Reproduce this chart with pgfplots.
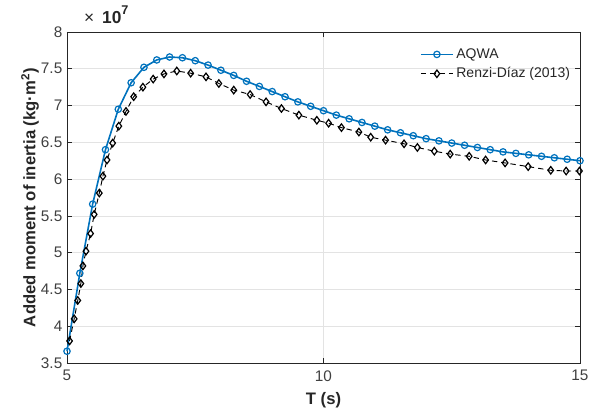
\documentclass[border=0pt]{standalone}
\usepackage{fontspec}
\setmainfont{Liberation Sans}
\usepackage{pgfplots}
\pgfplotsset{compat=1.18}
\definecolor{aqwablue}{HTML}{0072BD}
\definecolor{axgray}{HTML}{262626}
\definecolor{tickgray}{HTML}{404040}
\definecolor{gridgray}{HTML}{E3E3E3}

\begin{document}
\begin{tikzpicture}
\useasboundingbox (-50.25pt,-38.25pt) rectangle (397.5pt,272.25pt);
\begin{axis}[
  scale only axis, width=384.75pt, height=248.25pt,
  at={(0,0)}, anchor=south west,
  xmin=5, xmax=15, ymin=3.5, ymax=8,
  xtick={5,10,15},
  ytick={3.5,4,4.5,5,5.5,6,6.5,7,7.5,8},
  yticklabels={3.5,4,4.5,5,5.5,6,6.5,7,7.5,8},
  /pgf/number format/assume math mode=true,
  tick align=inside, major tick length=3.5pt,
  tick style={color=axgray, line width=0.5pt},
  axis line style={color=axgray, line width=0.6pt},
  ticklabel style={font=\fontsize{11.5}{13}\selectfont, text=tickgray},
  xticklabel style={yshift=-2pt},
  xmajorgrids, ymajorgrids,
  grid style={color=gridgray, line width=0.5pt},
  xlabel={\textbf{T (s)}},
  ylabel={\textbf{Added moment of inertia (kg·m\textsuperscript{2})}},
  label style={font=\fontsize{12.5}{14}\selectfont, text=axgray},
  xlabel style={at={(axis description cs:0.5,-0.112)}, anchor=center},
  ylabel style={at={(axis description cs:-0.072,0.5)}, anchor=center},
  legend style={at={(axis description cs:0.994,0.967)}, anchor=north east,
    draw=none, fill=none, font=\fontsize{10.5}{12}\selectfont,
    text=axgray, row sep=1.5pt},
  legend cell align=left,
  legend image code/.code={%
    \draw[mark repeat=2,mark phase=2,#1]
      plot coordinates {(0pt,0pt) (12pt,0pt) (24pt,0pt)};},
  clip=false,
]

\addplot[color=aqwablue, line width=1.2pt, mark=o,
  mark size=2.4pt, mark options={solid, line width=0.9pt}]
  coordinates {
  (5.00,3.66) (5.25,4.72) (5.50,5.66) (5.75,6.40) (6.00,6.95)
  (6.25,7.31) (6.50,7.52) (6.75,7.62) (7.00,7.66) (7.25,7.65)
  (7.50,7.61) (7.75,7.55) (8.00,7.48) (8.25,7.41) (8.50,7.33)
  (8.75,7.26) (9.00,7.19) (9.25,7.12) (9.50,7.05) (9.75,6.99)
  (10.00,6.93) (10.25,6.87) (10.50,6.82) (10.75,6.77) (11.00,6.72)
  (11.25,6.67) (11.50,6.63) (11.75,6.59) (12.00,6.55) (12.25,6.52)
  (12.50,6.49) (12.75,6.46) (13.00,6.43) (13.25,6.40) (13.50,6.37)
  (13.75,6.35) (14.00,6.33) (14.25,6.31) (14.50,6.29) (14.75,6.27)
  (15.00,6.25)};

\addplot[color=black, line width=0.7pt, dash pattern=on 4pt off 3pt,
  mark=diamond, mark size=2.8pt, mark options={solid, line width=0.9pt}]
  coordinates {
  (5.05,3.80) (5.14,4.10) (5.21,4.35) (5.27,4.58) (5.31,4.82)
  (5.37,5.02) (5.46,5.26) (5.53,5.52) (5.63,5.81) (5.70,6.04)
  (5.78,6.26) (5.89,6.49) (6.01,6.72) (6.15,6.92) (6.30,7.12)
  (6.48,7.25) (6.68,7.36) (6.89,7.43) (7.14,7.47) (7.41,7.44)
  (7.71,7.39) (7.96,7.30) (8.25,7.21) (8.57,7.15) (8.88,7.05)
  (9.18,6.96) (9.52,6.87) (9.87,6.80) (10.10,6.76) (10.35,6.70)
  (10.69,6.64) (10.92,6.57) (11.21,6.53) (11.57,6.48) (11.83,6.43)
  (12.16,6.38) (12.47,6.34) (12.84,6.31) (13.16,6.26) (13.54,6.22)
  (13.99,6.17) (14.43,6.12) (14.73,6.11) (14.99,6.11)};

\legend{AQWA, Renzi-Díaz (2013)}

\node[anchor=base west, inner sep=0pt, text=axgray]
  at (axis description cs:0.033,1.027)
  {\fontsize{13}{15}\selectfont ×\hspace{0.45em}\textbf{10}\raisebox{0.5em}{\fontsize{9.5}{11}\selectfont\textbf{7}}};
\end{axis}
\end{tikzpicture}
\end{document}
